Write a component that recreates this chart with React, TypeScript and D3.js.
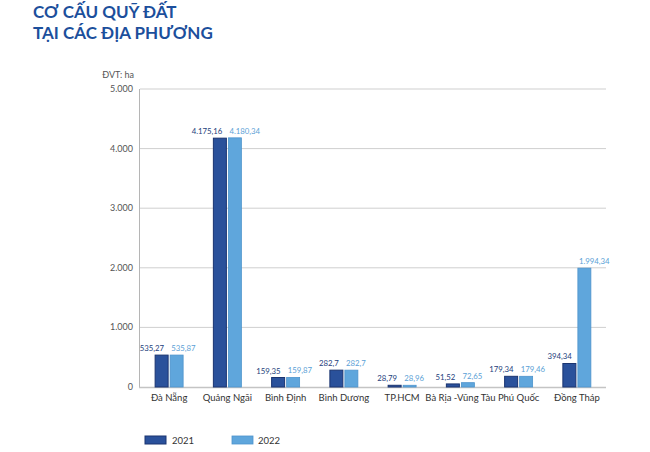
import React from "react";
import * as d3 from "d3";

const regions = [
  "Đà Nẵng",
  "Quảng Ngãi",
  "Bình Định",
  "Bình Dương",
  "TP.HCM",
  "Bà Rịa - Vũng Tàu",
  "Phú Quốc",
  "Đồng Tháp",
];
const values2021 = [535.27, 4175.16, 159.35, 282.7, 28.79, 51.52, 179.34, 394.34];
const values2022 = [535.87, 4180.34, 159.87, 282.7, 28.96, 72.65, 179.46, 1994.34];
const yTicks = [0, 1000, 2000, 3000, 4000, 5000];

const vn = d3.formatLocale({
  decimal: ",",
  thousands: ".",
  grouping: [3],
  currency: ["", ""],
});
const fmtValue = vn.format(",.2~f");
const fmtTick = vn.format(",d");

const FONT = "Lato, 'Open Sans', sans-serif";
const DARK = "#2a519b";
const DARK_EDGE = "#1a3470";
const LIGHT = "#5fa6dc";
const LIGHT_EDGE = "#4d93cc";

const App = () => {
  const width = 650;
  const height = 452;
  const left = 140;
  const right = 606;
  const top = 89;
  const bottom = 387;

  const x = d3.scaleBand().domain(regions).range([left, right]).padding(0);
  const y = d3.scaleLinear().domain([0, 5000]).range([bottom, top]);
  const barW = 13;
  const gap = 2;

  return (
    <svg
      width={width}
      height={height}
      style={{ position: "absolute", left: 0, top: 0, background: "#fff" }}
      fontFamily={FONT}
    >
      {/* title */}
      <text x={33} y={18} fontSize={17} fontWeight={700} fill="#1c4f9c">
        CƠ CẤU QUỸ ĐẤT
      </text>
      <text x={33} y={39} fontSize={17} fontWeight={700} fill="#1c4f9c">
        TẠI CÁC ĐỊA PHƯƠNG
      </text>

      <text x={134} y={78} fontSize={9} fill="#555" textAnchor="end">
        ĐVT: ha
      </text>

      {/* grid + y ticks */}
      {yTicks.map((t) => (
        <g key={t}>
          {t > 0 && (
            <line x1={left} x2={right} y1={y(t)} y2={y(t)} stroke="#cfcfcf" strokeWidth={1} />
          )}
          <text x={133} y={y(t) + 3} fontSize={9} fill="#555" textAnchor="end">
            {fmtTick(t)}
          </text>
        </g>
      ))}
      <line x1={left - 0.5} x2={left - 0.5} y1={top} y2={bottom} stroke="#b5b5b5" strokeWidth={1} />
      <line x1={left - 1} x2={right} y1={bottom + 0.5} y2={bottom + 0.5} stroke="#c4c4c4" strokeWidth={1.5} />

      {/* bars */}
      {regions.map((r, i) => {
        const c = (x(r) as number) + x.bandwidth() / 2;
        const v1 = values2021[i];
        const v2 = values2022[i];
        return (
          <g key={r}>
            <rect
              x={c - gap / 2 - barW}
              y={y(v1)}
              width={barW}
              height={bottom - y(v1)}
              fill={DARK}
              stroke={DARK_EDGE}
              strokeWidth={1}
            />
            <rect
              x={c + gap / 2}
              y={y(v2)}
              width={barW}
              height={bottom - y(v2)}
              fill={LIGHT}
              stroke={LIGHT_EDGE}
              strokeWidth={0.8}
            />
            <text x={c - 5} y={y(v1) - 4} fontSize={7.8} fill="#24407c" textAnchor="end">
              {fmtValue(v1)}
            </text>
            <text x={c + 2} y={y(v2) - 4} fontSize={7.8} fill="#5b9fd6" textAnchor="start">
              {fmtValue(v2)}
            </text>
            <text x={c} y={401} fontSize={9.5} fill="#333" textAnchor="middle">
              {r.replace(" - ", " -")}
            </text>
          </g>
        );
      })}

      {/* legend */}
      <rect x={145} y={436} width={21} height={8} fill={DARK} stroke={DARK_EDGE} strokeWidth={1} />
      <text x={172} y={444} fontSize={9.5} fill="#333">
        2021
      </text>
      <rect x={232} y={436} width={21} height={8} fill={LIGHT} stroke={LIGHT_EDGE} strokeWidth={0.8} />
      <text x={258} y={444} fontSize={9.5} fill="#333">
        2022
      </text>
    </svg>
  );
};

export default App;
